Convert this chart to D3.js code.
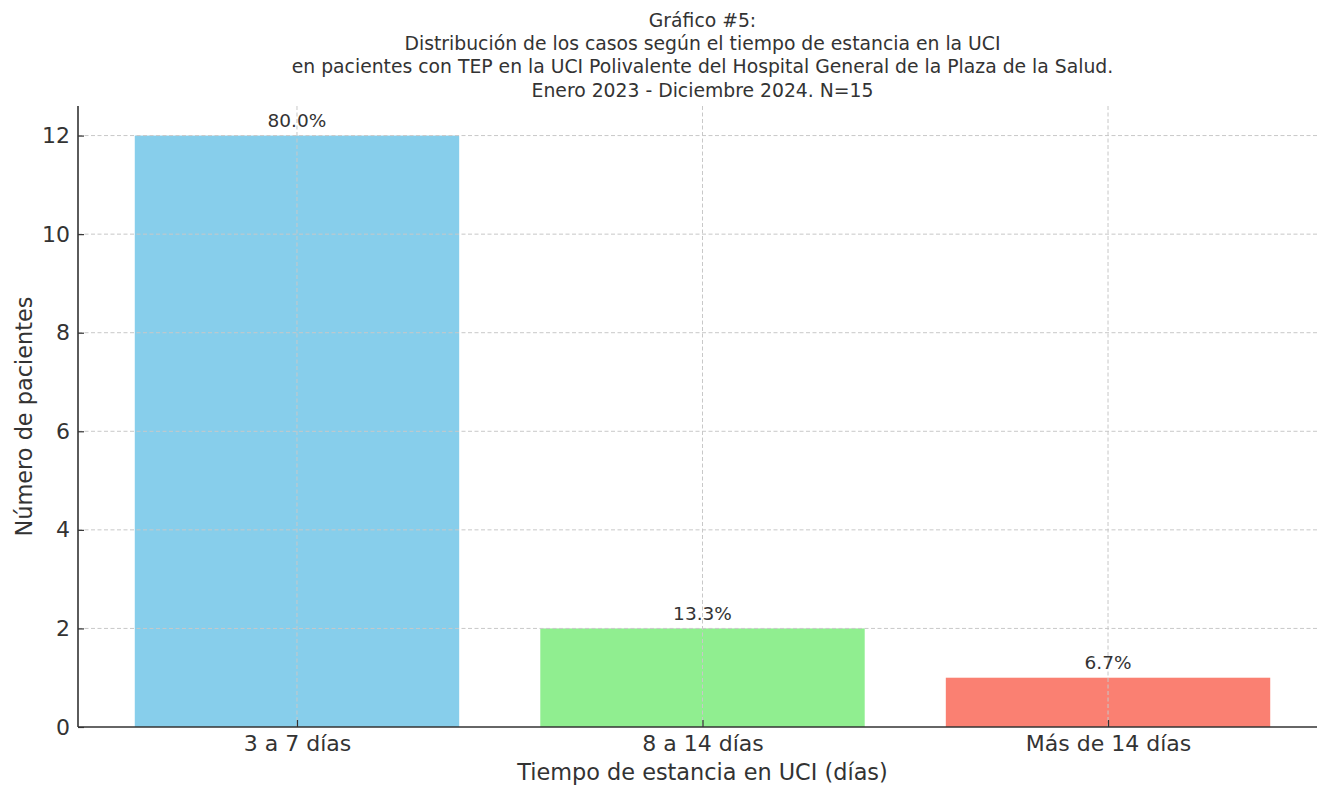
<!DOCTYPE html>
<html>
<head>
<meta charset="utf-8">
<script src="https://cdn.jsdelivr.net/npm/d3@7"></script>
<style>
  body { margin: 0; background: #fff; }
  text { font-family: "DejaVu Sans", sans-serif; fill: #333; }
</style>
</head>
<body>
<svg width="1317" height="785"></svg>
<script>
const categories = ['3 a 7 días', '8 a 14 días', 'Más de 14 días'];
const patients = [12, 2, 1];
const percentLabels = ['80.0%', '13.3%', '6.7%'];
const barColors = ['#87CEEB', '#90EE90', '#FA8072'];
const yTicks = [0, 2, 4, 6, 8, 10, 12];
const titleLines = [
    'Gráfico #5:',
    'Distribución de los casos según el tiempo de estancia en la UCI',
    'en pacientes con TEP en la UCI Polivalente del Hospital General de la Plaza de la Salud.',
    'Enero 2023 - Diciembre 2024. N=15'
];

const svg = d3.select('svg');
const mLeft = 78, mRight = 1327, mTop = 106, mBottom = 727;

// matplotlib style: bars at integer positions, width 0.8, 5% margins
const x = d3.scaleLinear().domain([-0.54, 2.54]).range([mLeft, mRight]);
const y = d3.scaleLinear().domain([0, 12.6]).range([mBottom, mTop]);
const barW = x(0.8) - x(0);

svg.selectAll('.bar').data(patients).enter().append('rect')
    .attr('class', 'bar')
    .attr('x', (d, i) => x(i - 0.4))
    .attr('y', d => y(d))
    .attr('width', barW)
    .attr('height', d => y(0) - y(d))
    .attr('fill', (d, i) => barColors[i]);

// grid (drawn over bars like the original)
const grid = svg.append('g').attr('stroke', '#c8c8c8').attr('stroke-dasharray', '4,2.5').attr('stroke-width', 1);
grid.selectAll('.hg').data(yTicks.slice(1)).enter().append('line')
    .attr('x1', mLeft).attr('x2', mRight)
    .attr('y1', d => y(d)).attr('y2', d => y(d));
grid.selectAll('.vg').data(categories).enter().append('line')
    .attr('x1', (d, i) => x(i)).attr('x2', (d, i) => x(i))
    .attr('y1', mTop).attr('y2', mBottom);

// axes
const yAxis = d3.axisLeft(y).tickValues(yTicks).tickSize(-6).tickPadding(8);
const gy = svg.append('g').attr('transform', `translate(${mLeft},0)`).call(yAxis);
const xAxis = d3.axisBottom(x).tickValues([0, 1, 2]).tickFormat(i => categories[i]).tickSize(-7).tickPadding(8);
const gx = svg.append('g').attr('transform', `translate(0,${mBottom})`).call(xAxis);

[gx, gy].forEach(g => {
    g.select('.domain').attr('stroke', '#333').attr('stroke-width', 1.6);
    g.selectAll('.tick line').attr('stroke', '#333').attr('stroke-width', 1.2);
    g.selectAll('.tick text').attr('font-size', 22).attr('font-family', 'DejaVu Sans').attr('fill', '#333');
});
gy.select('.domain').attr('d', `M0,${mBottom}V${mTop}`);
gx.select('.domain').attr('d', `M${mLeft},0H${mRight}`);

// value labels
svg.selectAll('.val').data(patients).enter().append('text')
    .attr('x', (d, i) => x(i))
    .attr('y', d => y(d) - 8.5)
    .attr('text-anchor', 'middle')
    .attr('font-size', 18.5)
    .text((d, i) => percentLabels[i]);

// axis titles
svg.append('text')
    .attr('x', (mLeft + mRight) / 2).attr('y', 780)
    .attr('text-anchor', 'middle').attr('font-size', 22.4)
    .text('Tiempo de estancia en UCI (días)');
svg.append('text')
    .attr('transform', `translate(32,${(mTop + mBottom) / 2}) rotate(-90)`)
    .attr('text-anchor', 'middle').attr('font-size', 22.4)
    .text('Número de pacientes');

// title
svg.selectAll('.title').data(titleLines).enter().append('text')
    .attr('x', (mLeft + mRight) / 2)
    .attr('y', (d, i) => 27 + i * 23.2)
    .attr('text-anchor', 'middle')
    .attr('font-size', 18.8)
    .text(d => d);
</script>
</body>
</html>
